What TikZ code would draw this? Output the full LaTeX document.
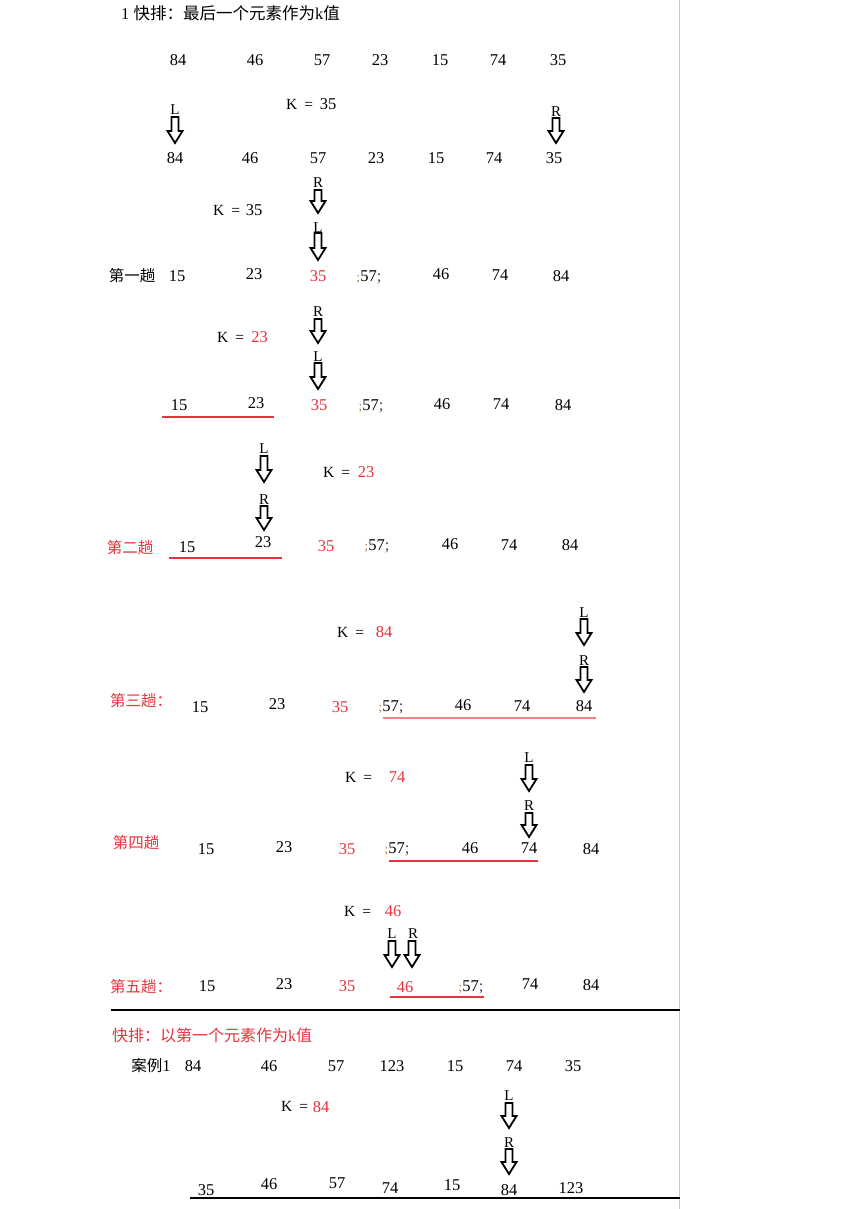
\documentclass[tikz,border=0pt]{standalone}
\usepackage{fontspec}
\setmainfont{Liberation Serif}
\newfontfamily\cjk{Noto Sans CJK SC}
\definecolor{kred}{RGB}{232,50,60}
\definecolor{kpink}{RGB}{240,130,130}
\definecolor{semiA}{RGB}{170,120,70}
\definecolor{semiB}{RGB}{60,80,120}
\definecolor{vgray}{RGB}{200,200,200}
\newcommand\semis{{\color{semiA}\fontsize{13}{14}\selectfont;}57{\color{semiB};}}
\newcommand\darr[3]{\draw[arrowbox] ({#1-3.5},#2) -- ({#1+3.5},#2) -- ({#1+3.5},{#3-12}) -- ({#1+7.5},{#3-12}) -- (#1,#3) -- ({#1-7.5},{#3-12}) -- ({#1-3.5},{#3-12}) -- cycle;}
\begin{document}
\begin{tikzpicture}[x=1pt,y=-1pt,
  num/.style={font=\fontsize{16.5}{18}\selectfont, inner sep=0pt, anchor=base, yshift=-5.7pt},
  lbl/.style={font=\fontsize{15}{16}\selectfont, inner sep=0pt},
  kt/.style={font=\fontsize{15.5}{17}\selectfont, inner sep=0pt, anchor=base west, yshift=-5.5pt},
  cn/.style={font=\cjk\fontsize{15.5}{17}\selectfont, inner sep=0pt},
  red/.style={text=kred},
  arrowbox/.style={draw=black, line width=1.8pt, fill=white, line join=miter},
  uline/.style={draw=kred, line width=2pt},
  bline/.style={draw=black, line width=2.5pt}]
\useasboundingbox (0,0) rectangle (867,1209);
\fill[white] (0,0) rectangle (867,1209);
\draw[vgray, line width=1pt] (679.5,0) -- (679.5,1209);

% title
\node[inner sep=0pt, anchor=west, font=\fontsize{16.5}{18}\selectfont] (title) at (121,13) {1\ {\cjk 快排：最后一个元素作为}k{\cjk 值}};

% row 1
\foreach \x/\t [count=\i] in {178/84,255/46,322/57,380/23,440/15,498/74,558/35}
  \node[num] (a\i) at (\x,60) {\t};
\node[kt] (k1) at (286,104) {K\hspace{7pt}=};
\node[num] (k1v) at (328,104) {35};

% row 2
\foreach \x/\t [count=\i] in {175/84,250/46,318/57,376/23,436/15,494/74,554/35}
  \node[num] (b\i) at (\x,158) {\t};
\node[kt] (k2) at (213,210) {K\hspace{7pt}=};
\node[num] (k2v) at (254,210) {35};

% row 3
\node[cn] (c0) at (132,276) {第一趟};
\node[num] (c1) at (177,276) {15};
\node[num] (c2) at (254,274) {23};
\node[num,red] (c3) at (318,276) {35};
\node[num] (c4) at (369,276) {\semis};
\node[num] (c5) at (441,274) {46};
\node[num] (c6) at (500,275) {74};
\node[num] (c7) at (561,276) {84};
\node[kt] (k3) at (217,337) {K\hspace{7pt}=};
\node[num,red] (k3v) at (259.5,337) {23};

% row 4
\node[num] (d1) at (179,405) {15};
\node[num] (d2) at (256,403) {23};
\node[num,red] (d3) at (319,405) {35};
\node[num] (d4) at (371,405) {\semis};
\node[num] (d5) at (442,404) {46};
\node[num] (d6) at (501,404) {74};
\node[num] (d7) at (563,405) {84};
\draw[uline] (162,417) -- (274,417);
\node[kt] (k4) at (323,472) {K\hspace{7pt}=};
\node[num,red] (k4v) at (366,472) {23};

% row 5
\node[cn,red] (e0) at (130,548) {第二趟};
\node[num] (e1) at (187,547) {15};
\node[num] (e2) at (263,542) {23};
\node[num,red] (e3) at (326,546) {35};
\node[num] (e4) at (377,545) {\semis};
\node[num] (e5) at (450,544) {46};
\node[num] (e6) at (509,545) {74};
\node[num] (e7) at (570,545) {84};
\draw[uline] (169,558) -- (282,558);
\node[kt] (k5) at (337,632) {K\hspace{7pt}=};
\node[num,red] (k5v) at (384,632) {84};

% row 6
\node[cn,red,anchor=west] (f0) at (110,701) {第三趟：};
\node[num] (f1) at (200,707) {15};
\node[num] (f2) at (277,704) {23};
\node[num,red] (f3) at (340,707) {35};
\node[num] (f4) at (391,706) {\semis};
\node[num] (f5) at (463,705) {46};
\node[num] (f6) at (522,706) {74};
\node[num] (f7) at (584,706) {84};
\draw[uline, draw=kpink] (383,718) -- (596,718);
\node[kt] (k6) at (345,777) {K\hspace{7pt}=};
\node[num,red] (k6v) at (397,777) {74};

% row 7
\node[cn,red] (g0) at (136,843) {第四趟};
\node[num] (g1) at (206,849) {15};
\node[num] (g2) at (284,847) {23};
\node[num,red] (g3) at (347,849) {35};
\node[num] (g4) at (397,848) {\semis};
\node[num] (g5) at (470,848) {46};
\node[num] (g6) at (529,848) {74};
\node[num] (g7) at (591,849) {84};
\draw[uline] (389,861) -- (538,861);
\node[kt] (k7) at (344,911) {K\hspace{7pt}=};
\node[num,red] (k7v) at (393,911) {46};

% row 8
\node[cn,red,anchor=west] (h0) at (110,987) {第五趟：};
\node[num] (h1) at (207,986) {15};
\node[num] (h2) at (284,984) {23};
\node[num,red] (h3) at (347,986) {35};
\node[num,red] (h4) at (405,987) {46};
\node[num] (h5) at (471,986) {\semis};
\node[num] (h6) at (530,984) {74};
\node[num] (h7) at (591,985) {84};
\draw[uline] (390,997) -- (484,997);
\draw[bline] (111,1010) -- (680,1010);

% second part
\node[cn,red,anchor=west,font=\cjk\fontsize{16}{17}\selectfont] (t2) at (112,1035) {快排：以第一个元素作为{\rmfamily k}值};
\node[cn] (i0) at (151,1066) {案例{\rmfamily\fontsize{16.5}{18}\selectfont 1}};
\foreach \x/\t [count=\i] in {193/84,269/46,336/57,392/123,455/15,514/74,573/35}
  \node[num] (i\i) at (\x,1066) {\t};
\node[kt] (k8) at (281,1106) {K\hspace{7pt}=};
\node[num,red] (k8v) at (321,1107) {84};
\foreach \x/\y/\t [count=\i] in {206/1190/35,269/1184/46,337/1183/57,390/1188/74,452/1185/15,509/1190/84,571/1188/123}
  \node[num] (j\i) at (\x,\y) {\t};
\draw[bline] (190,1198) -- (680,1198);

% arrows and labels
\darr{175}{117}{143} \node[lbl] (l1) at (175,110) {L};
\darr{556}{118}{143} \node[lbl] (r1) at (556,112) {R};
\darr{318}{190}{213} \node[lbl] (r2) at (318,183) {R};
\darr{318}{233}{260} \node[lbl] (l2) at (318,228) {L};
\darr{318}{319}{343} \node[lbl] (r3) at (318,312) {R};
\darr{318}{363}{389} \node[lbl] (l3) at (318,357) {L};
\darr{264}{456}{482} \node[lbl] (l4) at (264,449) {L};
\darr{264}{506}{530} \node[lbl] (r4) at (264,500) {R};
\darr{584}{619}{645} \node[lbl] (l5) at (584,613) {L};
\darr{584}{667}{692} \node[lbl] (r5) at (584,661) {R};
\darr{529}{765}{791} \node[lbl] (l6) at (529,758) {L};
\darr{529}{813}{837} \node[lbl] (r6) at (529,806) {R};
\darr{392}{941}{967} \node[lbl] (l7) at (392,934) {L};
\darr{412}{941}{967} \node[lbl] (r7) at (413,934) {R};
\darr{509}{1103}{1128} \node[lbl] (l8) at (509,1096) {L};
\darr{509}{1149}{1174} \node[lbl] (r8) at (509,1143) {R};
\end{tikzpicture}
\end{document}
